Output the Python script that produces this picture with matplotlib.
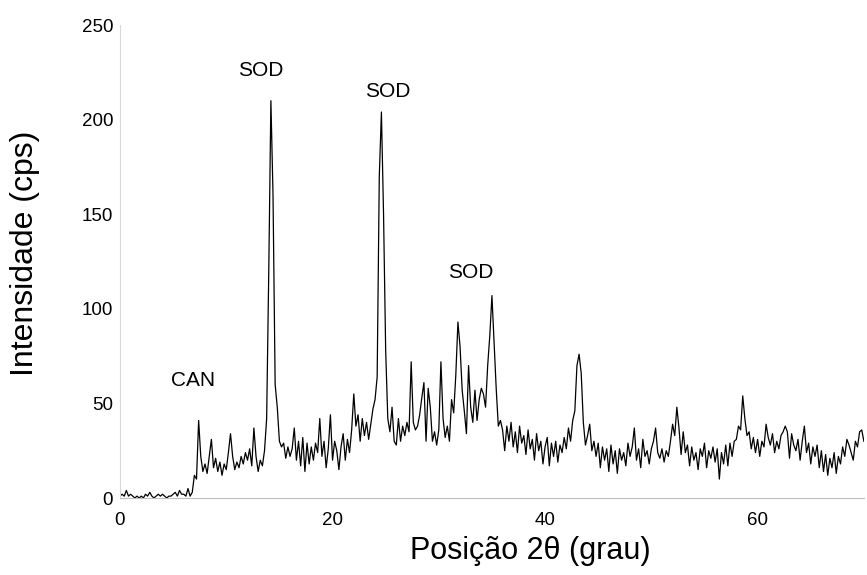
import numpy as np
import matplotlib

matplotlib.use("Agg")
import matplotlib.pyplot as plt  # noqa: E402

plt.rcParams["font.family"] = ["Liberation Sans", "DejaVu Sans"]

# 2-theta grid (deg), step 0.2
two_theta = np.round(np.arange(0, 70.01, 0.2), 1)

# intensity (cps), one row per 2 degrees
intensity = [
    1, 2, 1, 4, 1, 2, 1, 0, 1, 0,            # 0 - 1.8
    1, 0, 2, 1, 3, 1, 0, 1, 2, 1,            # 2 - 3.8
    2, 1, 0, 1, 1, 2, 3, 1, 4, 2,            # 4 - 5.8
    2, 1, 5, 1, 3, 12, 10, 41, 22, 14,       # 6 - 7.8
    18, 13, 22, 31, 16, 21, 14, 19, 12, 18,  # 8 - 9.8
    15, 24, 34, 22, 15, 19, 16, 22, 18, 24,  # 10 - 11.8
    20, 26, 17, 37, 22, 14, 20, 17, 25, 42,  # 12 - 13.8
    120, 210, 160, 60, 48, 30, 27, 29, 21, 27,  # 14 - 15.8
    22, 26, 37, 20, 30, 17, 32, 14, 29, 18,  # 16 - 17.8
    27, 20, 29, 24, 42, 22, 30, 16, 26, 44,  # 18 - 19.8
    20, 30, 25, 15, 27, 34, 20, 31, 24, 36,  # 20 - 21.8
    55, 38, 44, 30, 42, 33, 40, 31, 39, 47,  # 22 - 23.8
    52, 64, 170, 204, 150, 78, 42, 35, 48, 30,  # 24 - 25.8
    28, 42, 30, 38, 33, 40, 35, 72, 40, 36,  # 26 - 27.8
    38, 44, 53, 61, 30, 58, 48, 30, 35, 28,  # 28 - 29.8
    36, 72, 42, 32, 38, 30, 52, 45, 65, 93,  # 30 - 31.8
    80, 57, 46, 34, 70, 48, 40, 57, 41, 52,  # 32 - 33.8
    58, 55, 48, 70, 86, 107, 82, 58, 38, 41,  # 34 - 35.8
    36, 25, 38, 30, 40, 27, 35, 24, 38, 29,  # 36 - 37.8
    33, 23, 36, 26, 31, 20, 34, 25, 30, 18,  # 38 - 39.8
    27, 32, 17, 29, 22, 30, 19, 28, 24, 32,  # 40 - 41.8
    26, 37, 30, 41, 46, 70, 76, 66, 40, 28,  # 42 - 43.8
    33, 39, 25, 30, 22, 29, 16, 27, 20, 26,  # 44 - 45.8
    14, 28, 18, 25, 13, 26, 20, 24, 17, 29,  # 46 - 47.8
    22, 27, 37, 20, 26, 16, 31, 22, 25, 18,  # 48 - 49.8
    26, 30, 37, 24, 21, 26, 19, 25, 22, 30,  # 50 - 51.8
    39, 33, 48, 37, 23, 35, 24, 28, 17, 27,  # 52 - 53.8
    20, 24, 15, 26, 22, 29, 16, 25, 21, 27,  # 54 - 55.8
    19, 26, 10, 24, 18, 28, 17, 29, 22, 30,  # 56 - 57.8
    31, 38, 36, 54, 42, 33, 35, 26, 32, 24,  # 58 - 59.8
    31, 22, 30, 27, 39, 32, 28, 34, 24, 30,  # 60 - 61.8
    26, 33, 35, 38, 35, 21, 34, 28, 25, 31,  # 62 - 63.8
    20, 30, 38, 24, 29, 18, 27, 22, 28, 16,  # 64 - 65.8
    25, 14, 23, 12, 21, 16, 24, 13, 22, 18,  # 66 - 67.8
    27, 22, 31, 28, 24, 20, 30, 27, 35, 36,  # 68 - 69.8
    30,                                      # 70
]

# phase labels and where they sit (data coords)
phase_labels = ["CAN", "SOD", "SOD", "SOD"]
label_x = [6.9, 13.2, 25.2, 33.0]
label_y = [62, 226, 215, 119]

fig = plt.figure(figsize=(8.67, 5.75), dpi=100)
ax = fig.add_axes([0.1384, 0.1339, 0.858, 0.8226])

ax.plot(two_theta, intensity, color="black", linewidth=0.9)

for txt, x, y in zip(phase_labels, label_x, label_y):
    ax.text(x, y, txt, ha="center", va="center", fontsize=15)

ax.set_xlim(0, 70)
ax.set_ylim(0, 250)
ax.set_xticks([0, 20, 40, 60])
ax.set_yticks([0, 50, 100, 150, 200, 250])
ax.tick_params(length=0, labelsize=13.5)
ax.tick_params(axis="x", pad=10)
ax.tick_params(axis="y", pad=5)

for side in ("top", "right"):
    ax.spines[side].set_visible(False)
ax.spines["left"].set_color("#d9d9d9")
ax.spines["bottom"].set_color("#bfbfbf")

# axis titles placed where they sit in the original
fig.text(530 / 867, 1 - 551 / 575, "Posição 2θ (grau)", fontsize=22,
         ha="center", va="center")
fig.text(25 / 867, 1 - 253 / 575, "Intensidade (cps)", fontsize=23,
         rotation=90, ha="center", va="center")

fig.savefig("out.png", dpi=100)
plt.close(fig)
